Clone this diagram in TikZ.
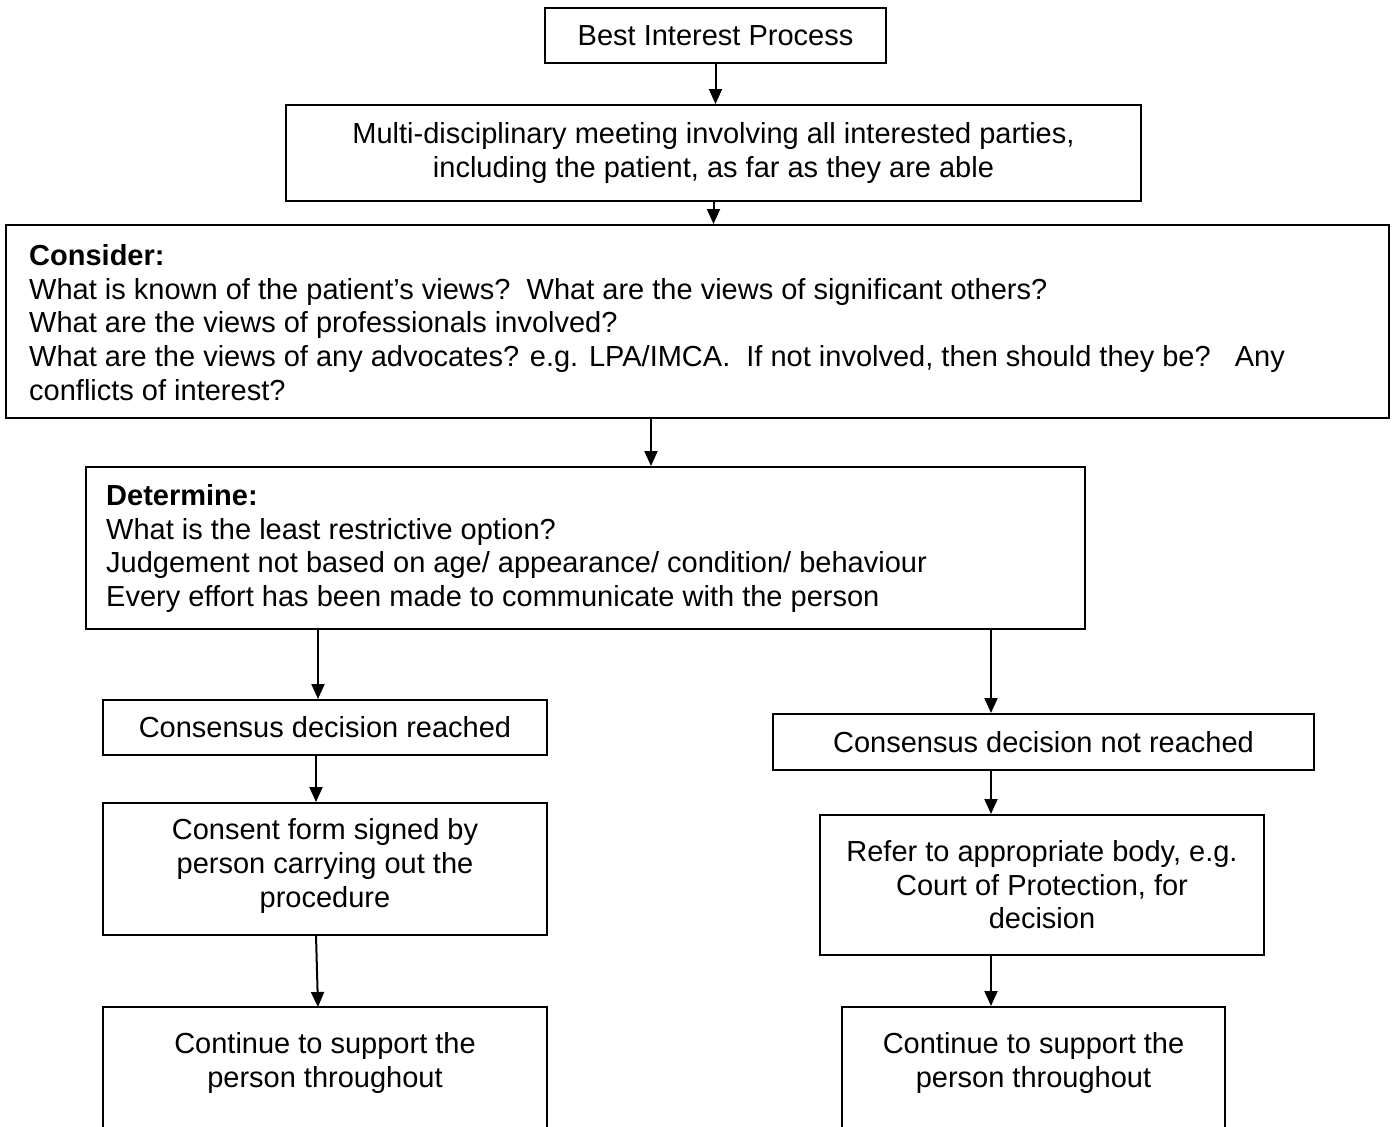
\documentclass[tikz,border=0pt]{standalone}
\usepackage{fontspec}
\setmainfont{Liberation Sans}
\usetikzlibrary{arrows.meta}
\tikzset{
  box/.style={draw=black, line width=2pt, inner sep=0pt, align=center, font=\fontsize{29}{33.5}\selectfont},
  txt/.style={inner sep=0pt, align=left, anchor=north west, font=\fontsize{29}{33.8}\selectfont},
  arr/.style={-{Triangle[length=15pt,width=13pt]}, line width=2pt}
}
\begin{document}
\begin{tikzpicture}[x=1pt,y=-1pt]
\useasboundingbox (0,0) rectangle (1393,1127);
\clip (0,0) rectangle (1393,1127);
\fill[white] (0,0) rectangle (1393,1127);
% boxes
\node[box, minimum width=341, minimum height=55] (bip) at (715.5,35.5) {Best Interest Process};
\node[box, minimum width=855, minimum height=96] (mdm) at (713.5,153) {Multi-disciplinary meeting involving all interested parties,\\including the patient, as far as they are able};
\node[box, minimum width=1383, minimum height=193] (con) at (697.5,321.5) {};
\node[txt] (cont) at (29,244) {\textbf{Consider:}\\What is known of the patient’s views?\ \ What are the views of significant others?\\What are the views of professionals involved?\\What are the views of any advocates? e.g. LPA/IMCA.\ \ If not involved, then should they be?\ \ \ Any\\conflicts of interest?};
\node[box, minimum width=999, minimum height=162] (det) at (585.5,548) {};
\node[txt] (dett) at (106,484) {\textbf{Determine:}\\What is the least restrictive option?\\Judgement not based on age/ appearance/ condition/ behaviour\\Every effort has been made to communicate with the person};
\node[box, minimum width=444, minimum height=55] (cyes) at (325,727.5) {Consensus decision reached};
\node[box, minimum width=541, minimum height=56] (cno) at (1043.5,742) {Consensus decision not reached};
\node[box, minimum width=444, minimum height=132] (form) at (325,869) {};
\node[txt, align=center, anchor=center] (formt) at (325,866) {Consent form signed by\\person carrying out the\\procedure};
\node[box, minimum width=444, minimum height=140] (refer) at (1042,885) {Refer to appropriate body, e.g.\\Court of Protection, for\\decision};
\node[box, minimum width=444, minimum height=150] (supl) at (325,1082) {};
\node[txt, align=center, anchor=north] (suplt) at (325,1032) {Continue to support the\\person throughout};
\node[box, minimum width=383, minimum height=150] (supr) at (1033.5,1082) {};
\node[txt, align=center, anchor=north] (suprt) at (1033.5,1032) {Continue to support the\\person throughout};
% connectors
\draw[arr] (bip.south) -- (bip.south |- mdm.north);
\draw[arr] (mdm.south) -- (mdm.south |- con.north);
\draw[arr] (651,418) coordinate (c1) -- (c1 |- det.north);
\draw[arr] (318,629) coordinate (c2) -- (c2 |- cyes.north);
\draw[arr] (991,629) coordinate (c3) -- (c3 |- cno.north);
\draw[arr] (316,755) coordinate (c4) -- (c4 |- form.north);
\draw[arr] (316,935) coordinate (c5) -- (318,1007) coordinate (c6);
\draw[arr] (991,770) coordinate (c7) -- (c7 |- refer.north);
\draw[arr] (991,955) coordinate (c8) -- (c8 |- supr.north);
\end{tikzpicture}
\end{document}
